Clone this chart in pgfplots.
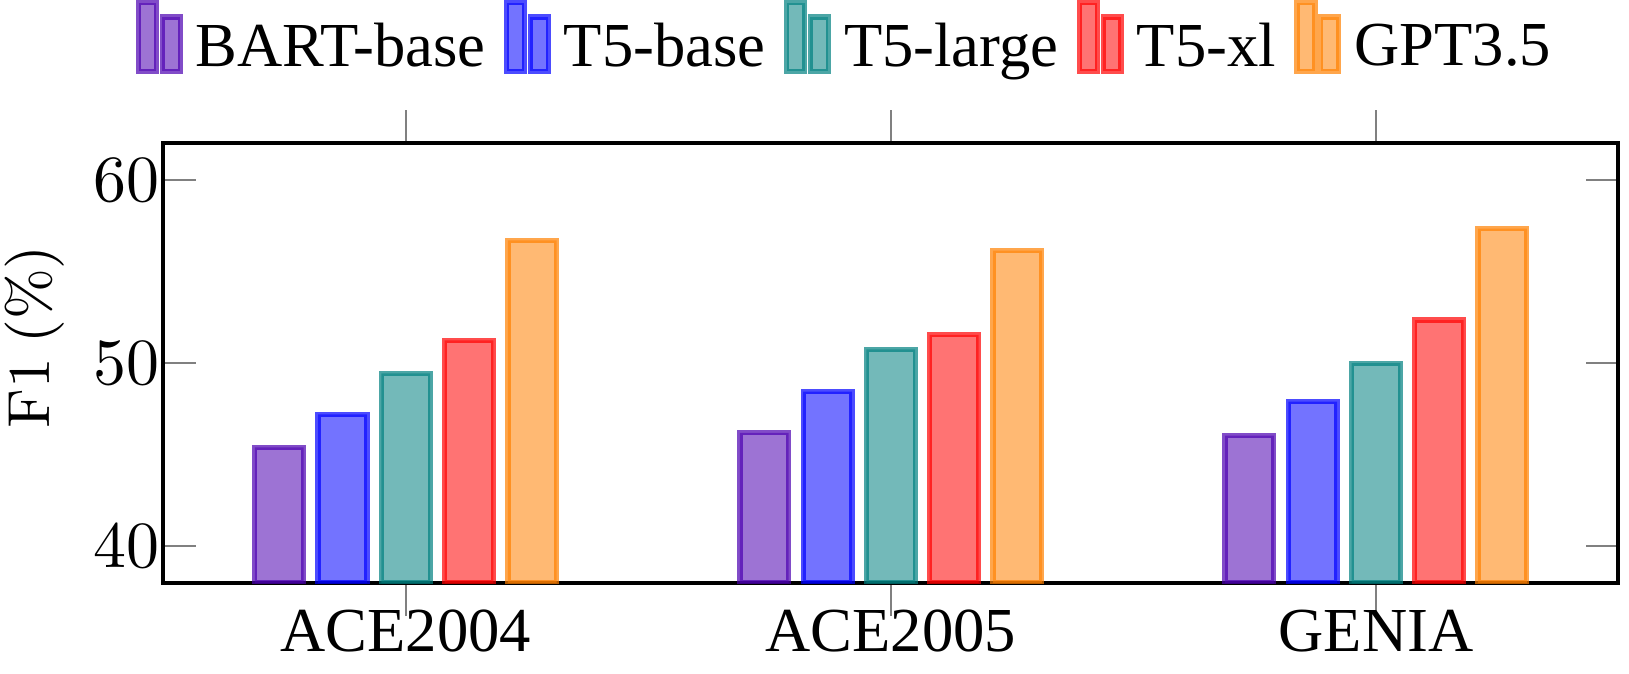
\documentclass[border=0pt]{standalone}
\usepackage[no-math]{fontspec}
\setmainfont{Liberation Serif}
\usepackage{pgfplots}
\pgfplotsset{compat=1.18}
\definecolor{cPurple}{RGB}{76,0,176}
\definecolor{cBlue}{RGB}{0,0,255}
\definecolor{cTeal}{RGB}{0,128,128}
\definecolor{cRed}{RGB}{255,0,0}
\definecolor{cOrange}{RGB}{255,128,0}
\pgfplotsset{barsty/.style={#1, fill=#1, fill opacity=0.55, draw opacity=0.7, line width=0.8pt}}
\begin{document}
\begin{tikzpicture}
\begin{axis}[
  name=ax,
  ybar=2.2pt, bar width=7.4pt,
  x=73.6pt, y=2.78pt,
  xmin=-0.5, xmax=2.5, ymin=38, ymax=62,
  xtick={0,1,2}, xticklabels={ACE2004,ACE2005,GENIA},
  ytick={40,50,60},
  axis line style={line width=0.6pt},
  xtick align=outside, ytick align=inside,
  major tick length=5pt,
  tick style={gray, line width=0.3pt},
  xtick pos=both, ytick pos=both,
  xticklabel style={font=\fontsize{9.5}{11}\selectfont, yshift=4.5pt},
  yticklabel style={font=\fontsize{10}{12}\selectfont, xshift=2.9pt},
  ylabel={$\mathrm{F1\ (\%)}$},
  ylabel style={font=\fontsize{8.8}{10}\selectfont, at={(ticklabel cs:0.56)}, inner sep=0.8pt},
  legend style={at={(rel axis cs:0.472,1)}, anchor=south, yshift=8pt, draw=none, fill=none,
    font=\fontsize{9.5}{11}\selectfont, inner sep=0pt,
    /tikz/every even column/.append style={column sep=0.8pt}},
  legend columns=-1,
  legend image code/.code={\draw[#1] (0pt,-3.3pt) rectangle (2.7pt,7.1pt);
    \draw[#1] (3.6pt,-3.3pt) rectangle (6.3pt,4.9pt);},
]
\addplot[barsty=cPurple] coordinates {(0,45.4) (1,46.2) (2,46.05)};
\addplot[barsty=cBlue] coordinates {(0,47.2) (1,48.45) (2,47.9)};
\addplot[barsty=cTeal] coordinates {(0,49.45) (1,50.75) (2,50.0)};
\addplot[barsty=cRed] coordinates {(0,51.25) (1,51.55) (2,52.35)};
\addplot[barsty=cOrange] coordinates {(0,56.7) (1,56.15) (2,57.35)};
\legend{BART-base,T5-base,T5-large,T5-xl,GPT3.5}
\end{axis}
\path ([xshift=1.6pt]ax.east);
\end{tikzpicture}
\end{document}
